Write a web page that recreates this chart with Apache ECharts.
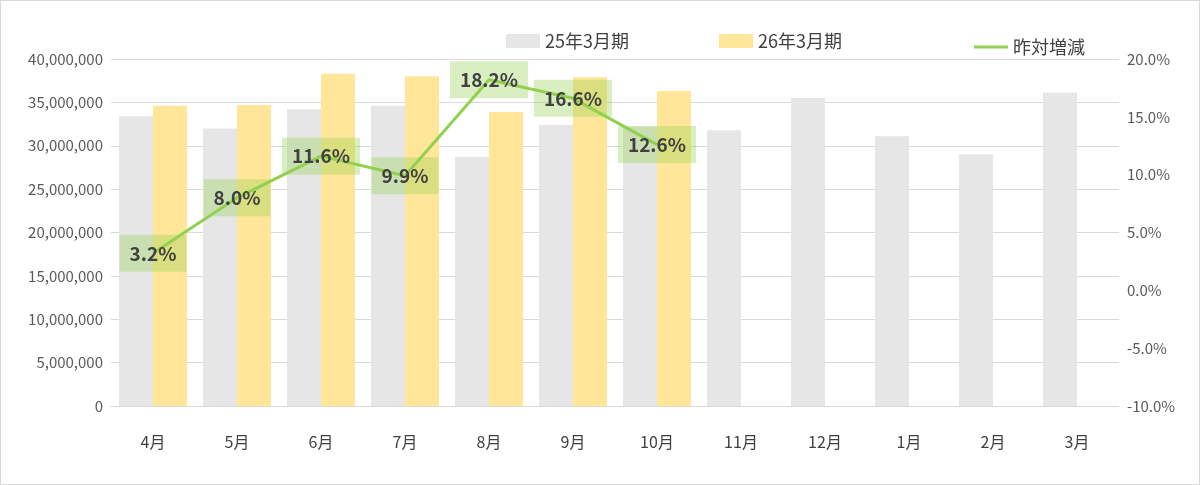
<!DOCTYPE html>
<html>
<head>
<meta charset="utf-8">
<script src="https://cdn.jsdelivr.net/npm/echarts@6/dist/echarts.min.js"></script>
<style>
html,body{margin:0;padding:0;background:#fff}
#main{width:1198px;height:483px;border:1px solid #d9d9d9}
</style>
</head>
<body>
<div id="main"></div>
<script>
var months = ['4月','5月','6月','7月','8月','9月','10月','11月','12月','1月','2月','3月'];
var prevYear = [33400000,32000000,34200000,34600000,28700000,32400000,32200000,31800000,35500000,31100000,29000000,36100000];
var currYear = [34600000,34700000,38300000,38000000,33900000,37900000,36300000];
var yoy = [3.2,8.0,11.6,9.9,18.2,16.6,12.6];

var font = '"Noto Sans CJK JP", "Noto Sans", sans-serif';
var chart = echarts.init(document.getElementById('main'));
chart.setOption({
    textStyle: {fontFamily: font},
    legend: [{
        top: 26, left: 500, itemGap: 90, itemWidth: 34, itemHeight: 14,
        textStyle: {fontSize: 18, color: '#404040', fontFamily: font},
        data: [{name:'25年3月期', icon:'rect'}, {name:'26年3月期', icon:'rect'}]
    }, {
        top: 32, left: 968, itemWidth: 34, itemHeight: 3,
        textStyle: {fontSize: 18, color: '#404040', fontFamily: font},
        data: [{name:'昨対増減', icon:'rect'}]
    }],
    grid: {left: 110, right: 80, top: 58, bottom: 78},
    xAxis: {
        type: 'category', data: months,
        axisLine: {lineStyle: {color: '#d9d9d9'}},
        axisTick: {show: false},
        axisLabel: {fontSize: 16, color: '#404040', margin: 28}
    },
    yAxis: [{
        type: 'value', min: 0, max: 40000000, interval: 5000000,
        axisLabel: {fontSize: 15, color: '#595959', formatter: function (v) { return v.toLocaleString('en-US'); }},
        splitLine: {lineStyle: {color: '#d9d9d9'}}
    }, {
        type: 'value', min: -10, max: 20, interval: 5,
        axisLabel: {fontSize: 15, color: '#595959', formatter: function (v) { return v.toFixed(1) + '%'; }},
        splitLine: {show: false}
    }],
    series: [{
        name: '25年3月期', type: 'bar', data: prevYear, barWidth: 34, barGap: '0%',
        itemStyle: {color: '#e7e6e6'}
    }, {
        name: '26年3月期', type: 'bar', data: currYear, barWidth: 34,
        itemStyle: {color: '#ffe699'}
    }, {
        name: '昨対増減', type: 'line', yAxisIndex: 1, data: yoy,
        symbol: 'circle', symbolSize: 0, showSymbol: true,
        lineStyle: {color: '#92d050', width: 3}, itemStyle: {color: '#92d050'},
        label: {
            show: true, position: 'inside', fontSize: 19, fontWeight: 'bold', color: '#404040',
            backgroundColor: 'rgba(146,208,80,0.35)', padding: [10, 10, 8, 10],
            formatter: function (p) { return p.value.toFixed(1) + '%'; }
        },
        labelLayout: {hideOverlap: false},
        z: 5
    }]
});
</script>
</body>
</html>
